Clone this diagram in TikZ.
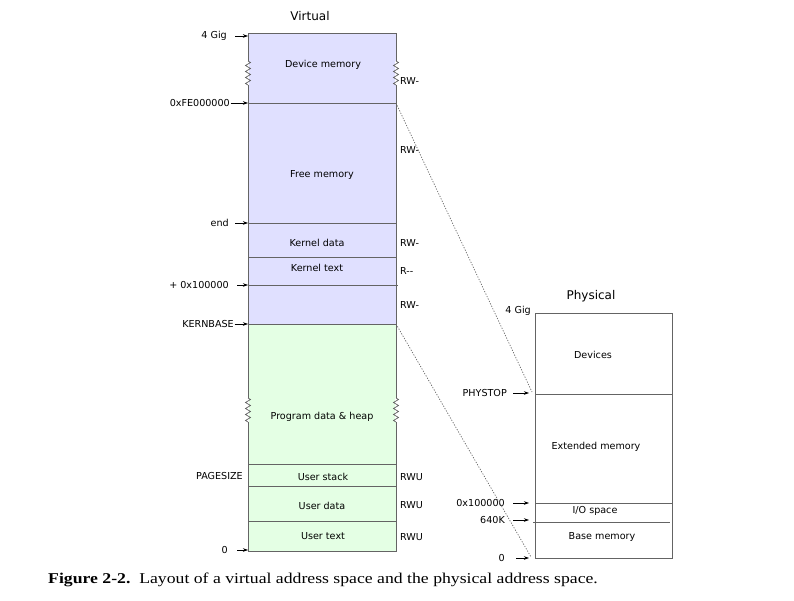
\documentclass[tikz,border=0pt]{standalone}
\usepackage{fontspec}
\setmainfont{Liberation Serif}
\newfontfamily\figfont{DejaVu Sans}
\newfontfamily\capfont[FakeStretch=1.18]{Liberation Serif}
\usepackage{tikz}
\usetikzlibrary{positioning,arrows.meta,decorations.pathmorphing}
\definecolor{kernblue}{RGB}{224,224,255}
\definecolor{usergreen}{RGB}{228,255,228}
\definecolor{edgegray}{RGB}{100,100,100}

\begin{document}
\begin{tikzpicture}[x=1pt,y=-1pt]
    \useasboundingbox (0,0) rectangle (794,601);
    \def\vl{248}
    \def\vr{396}
    \def\pl{535}
    \def\pr{672}

    % --- DEFINE STYLES ---
    % Style for text inside and beside the boxes
    \tikzstyle{region} = [font=\figfont\fontsize{9.6}{11}\selectfont, inner sep=0pt]
    % Style for address labels (left of a box)
    \tikzstyle{addr} = [region, anchor=east]
    % Style for permission labels (right of a box)
    \tikzstyle{perm} = [region, anchor=west]
    \tikzstyle{boxtitle} = [font=\figfont\fontsize{12}{14}\selectfont, inner sep=0pt]
    \tikzstyle{ptr} = [-{Stealth[length=5pt,width=3.5pt]}, line width=0.6pt]
    \tikzstyle{divider} = [edgegray, line width=0.8pt]
    \tikzstyle{mapline} = [black!60, line width=0.7pt, dash pattern=on 1.2pt off 1.5pt]
    \tikzstyle{squiggle} = [edgegray, line width=0.7pt, decorate,
        decoration={zigzag, segment length=6pt, amplitude=2.5pt}]

    % --- VIRTUAL ADDRESS SPACE ---
    \node[boxtitle] (virt) at (310,16) {Virtual};
    \fill[kernblue] (\vl,34) rectangle (\vr,324);
    \fill[usergreen] (\vl,324) rectangle (\vr,551);
    \foreach \y in {103,223,257,324,464,486,521} {
        \draw[divider] (\vl,\y) -- (\vr,\y);
    }
    \draw[divider] (\vl,285) -- (\vr+2,285);
    \draw[edgegray, line width=1pt] (\vl,34) rectangle (\vr,551);

    % breaks in the box edges
    \foreach \x/\ya/\yb in {\vl/61/85, \vr/61/85, \vl/398/422, \vr/398/422} {
        \draw[white, line width=1.5pt] (\x,\ya) -- (\x,\yb);
        \draw[squiggle] (\x,\ya) -- (\x,\yb);
    }

    % region names
    \node[region] (devmem)  at (323,65)  {Device memory};
    \node[region] (freemem) at (322,175) {Free memory};
    \node[region] (kdata)   at (317,243) {Kernel data};
    \node[region] (ktext)   at (317,268) {Kernel text};
    \node[region] (heap)    at (322,417) {Program data \& heap};
    \node[region] (ustack)  at (323,477) {User stack};
    \node[region] (udata)   at (322,506) {User data};
    \node[region] (utext)   at (323,536) {User text};

    % permissions
    \foreach \y/\p [count=\i] in {81/RW-, 150/RW-, 243/RW-, 271/R-{}-, 305/RW-,
                                  477/RWU, 505/RWU, 537/RWU} {
        \node[perm] (perm\i) at (400,\y) {\p};
    }

    % addresses
    \coordinate (vedge) at (\vl,0);
    \foreach \nm/\t/\x/\y/\g in {v4gig/4 Gig/227/36/8, vfe/0xFE000000/230/103/0.5,
                                 vend/end/229/223/6, vmeg/+ 0x100000/229/285/8,
                                 vkern/KERNBASE/234/324/0.5, vzero/0/228/550/9} {
        \node[addr] (\nm) at (\x,\y) {\t};
        \draw[ptr, shorten <=\g pt] (\nm.east) -- (\nm.east -| vedge);
    }
    \node[addr] (pagesize) at (243,476) {PAGESIZE};

    % --- PHYSICAL ADDRESS SPACE ---
    \node[boxtitle] (phys) at (591,296) {Physical};
    \draw[divider] (\pl,394) -- (\pr,394);
    \draw[divider] (\pl,503) -- (\pr,503);
    \draw[divider] (\pl-2,522) -- (\pr-2,522);
    \draw[edgegray, line width=1pt] (\pl,313) rectangle (\pr,558);

    \node[region] (devices) at (593,355) {Devices};
    \node[region] (extmem)  at (596,447) {Extended memory};
    \node[region] (iospace) at (595,511) {I/O space};
    \node[region] (basemem) at (602,537) {Base memory};

    \node[addr] (p4gig) at (531,311) {4 Gig};
    \coordinate (pedge) at (529,0);
    \foreach \nm/\t/\x/\y/\g in {pstop/PHYSTOP/507/393/6, pmeg/0x100000/505/503/8,
                                 p640/640K/505/520/8, pzero/0/505/558/11} {
        \node[addr] (\nm) at (\x,\y) {\t};
        \draw[ptr, shorten <=\g pt] (\nm.east) -- (\nm.east -| pedge);
    }

    % --- MAPPINGS ---
    \coordinate (vfetop) at (\vr,103);
    \coordinate (vkbtop) at (\vr,324);
    \coordinate (pstoptip) at (532,392);
    \coordinate (pzerotip) at (531,557);
    \draw[mapline] (vfetop) -- (pstoptip);
    \draw[mapline] (vkbtop) -- (pzerotip);

    % caption
    \node[anchor=base west, inner sep=0pt] (caption) at (48,583)
        {\capfont\fontsize{15}{17}\selectfont\textbf{Figure 2-2.}\ \ Layout of a virtual address space and the physical address space.};
\end{tikzpicture}
\end{document}
